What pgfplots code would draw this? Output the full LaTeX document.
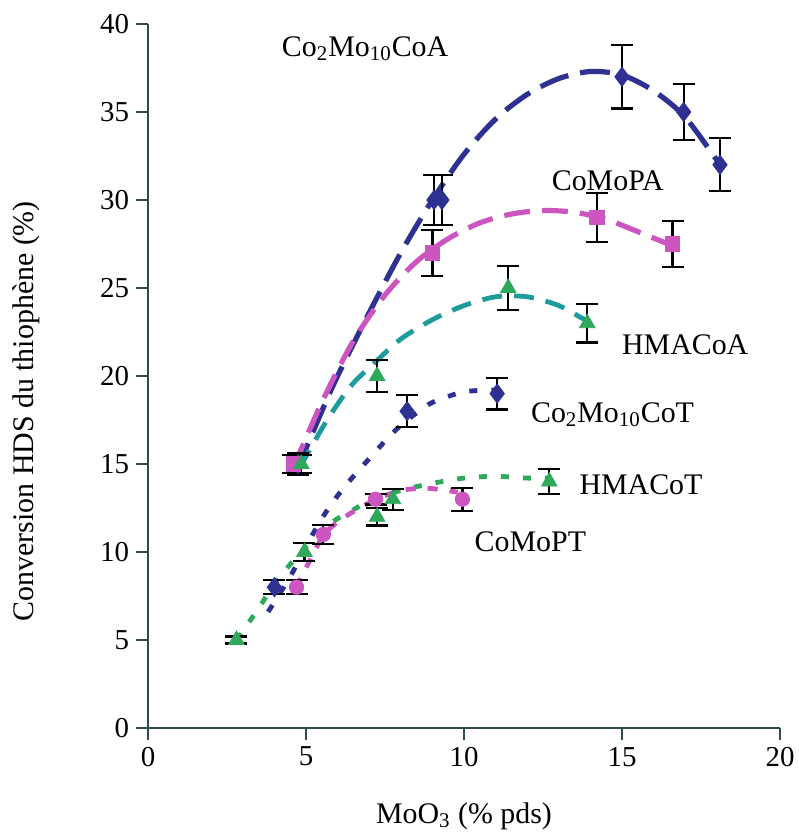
\documentclass[border=0pt]{standalone}
\usepackage{pgfplots}
\pgfplotsset{compat=1.18}
\usepackage{fontspec}
\setmainfont{Liberation Serif}

\definecolor{cnavy}{HTML}{2E3192}
\definecolor{cmag}{HTML}{CC55C0}
\definecolor{cteal}{HTML}{1E9C9C}
\definecolor{cgreen}{HTML}{2EA85A}
\definecolor{caxis}{HTML}{2F4A4A}

% points: x, y, error
\pgfplotstableread{
x y e
4.75 15 0.6
9.05 30 1.4
9.3 30 1.4
15.0 37 1.8
16.95 35 1.6
18.1 32 1.5
}\coA
\pgfplotstableread{
x y e
4.6 15 0.5
9.0 27 1.3
14.2 29 1.4
16.6 27.5 1.3
}\pA
\pgfplotstableread{
x y e
4.85 15 0.5
7.25 20 0.9
11.4 25 1.25
13.9 23 1.1
}\hA
\pgfplotstableread{
x y e
4.0 8 0.4
8.2 18 0.9
11.05 19 0.9
}\coT
\pgfplotstableread{
x y e
2.8 5 0.2
4.95 10 0.5
7.25 12 0.5
7.75 13 0.6
12.7 14 0.7
}\hT
\pgfplotstableread{
x y e
4.7 8 0.4
5.55 11 0.55
7.2 13 0.3
9.95 13 0.65
}\pT

\begin{document}
\begin{tikzpicture}
\begin{axis}[
    scale only axis,
    width=316bp, height=352bp,
    xmin=0, xmax=20, ymin=0, ymax=40,
    axis lines=left,
    axis line style={-, caxis, line width=1bp},
    tick style={caxis, line width=1bp},
    tick align=outside,
    major tick length=6bp,
    xtick={0,5,...,20}, ytick={0,5,...,40},
    /pgf/number format/assume math mode=true,
    tick label style={font=\fontsize{14.5}{16}\selectfont},
    label style={font=\fontsize{15}{17}\selectfont},
    xlabel={MoO\textsubscript{3} (\% pds)},
    ylabel={Conversion HDS du thiophène (\%)},
    xlabel style={at={(axis description cs:0.5,0)}, anchor=center, yshift=-44bp},
    ylabel style={at={(axis description cs:0,0.45)}, anchor=center, yshift=61bp},
    clip=false,
    error bars/y dir=both,
    error bars/y explicit,
    error bars/error bar style={black, line width=1.1bp},
    error bars/error mark options={black, line width=1.1bp, mark size=5.5bp, rotate=90},
]
% trend curves
\addplot[cnavy, line width=2.6bp, dash pattern=on 15bp off 6bp, smooth] coordinates {
(4.7,14.6) (5.5,18) (6,20) (7,23.6) (8,27) (9,30) (10,32.6) (11,34.6) (12,36) (13,36.9) (14,37.3) (15,37.1) (16,36.2) (17,34.7) (18.1,32)};
\addplot[cmag, line width=2.6bp, dash pattern=on 13bp off 6bp, smooth] coordinates {
(4.6,14.8) (5.5,18.5) (6.5,22) (7.5,24.6) (8.5,26.5) (9.5,27.8) (10.5,28.7) (11.5,29.2) (12.5,29.4) (13.5,29.3) (14.5,28.9) (15.5,28.2) (16.6,27.4)};
\addplot[cteal, line width=2.4bp, dash pattern=on 10bp off 6bp, smooth] coordinates {
(4.8,14.8) (5.5,17) (6,18.4) (6.5,19.6) (7.2,20.8) (8,22.1) (9,23.2) (10,24) (11,24.5) (12,24.5) (13,24) (13.9,23.1)};
\addplot[cnavy, line width=2.4bp, dash pattern=on 4bp off 7bp, smooth] coordinates {
(3.8,6.6) (4.5,8.6) (5,10.3) (5.5,11.9) (6,13.2) (6.5,14.3) (7,15.3) (7.5,16.3) (8,17.2) (8.5,17.9) (9,18.5) (10,19.1) (11,19.2)};
\addplot[cgreen, line width=2.4bp, dash pattern=on 4bp off 7bp, smooth] coordinates {
(2.8,5) (3.5,6.8) (4,8.2) (4.5,9.3) (5,10.3) (5.5,11.2) (6,11.9) (6.5,12.4) (7,12.9) (8,13.5) (9,13.9) (10,14.2) (11,14.3) (12,14.2) (12.7,14.2)};
\addplot[cmag, line width=2.4bp, dash pattern=on 5bp off 6bp, smooth] coordinates {
(4.7,8) (5.5,10.8) (6,11.7) (6.5,12.3) (7,12.8) (7.5,13.2) (8,13.5) (8.5,13.6) (9,13.6) (9.8,13.4)};
% markers with error bars
\addplot[only marks, mark=diamond*, mark size=4.8bp, cnavy] table[x=x, y=y, y error=e] {\coA};
\addplot[only marks, mark=square*, mark size=3.6bp, cmag] table[x=x, y=y, y error=e] {\pA};
\addplot[only marks, mark=triangle*, mark size=4.5bp, cgreen] table[x=x, y=y, y error=e] {\hA};
\addplot[only marks, mark=diamond*, mark size=4.8bp, cnavy] table[x=x, y=y, y error=e] {\coT};
\addplot[only marks, mark=*, mark size=3.6bp, cmag] table[x=x, y=y, y error=e] {\pT};
\addplot[only marks, mark=triangle*, mark size=4.5bp, cgreen] table[x=x, y=y, y error=e] {\hT};
% series labels
\begin{scope}[every node/.style={font=\fontsize{15}{17}\selectfont, inner sep=0pt}]
\node at (axis cs:6.87,38.6) {Co\textsubscript{2}Mo\textsubscript{10}CoA};
\node at (axis cs:14.55,31.1) {CoMoPA};
\node at (axis cs:17.0,21.8) {HMACoA};
\node at (axis cs:14.7,17.8) {Co\textsubscript{2}Mo\textsubscript{10}CoT};
\node at (axis cs:15.6,13.8) {HMACoT};
\node at (axis cs:12.1,10.6) {CoMoPT};
\end{scope}
\end{axis}
\pgfresetboundingbox
\useasboundingbox ([shift={(-74bp,-53bp)}]current axis.south west) rectangle ([shift={(9bp,12bp)}]current axis.north east);
\end{tikzpicture}
\end{document}
